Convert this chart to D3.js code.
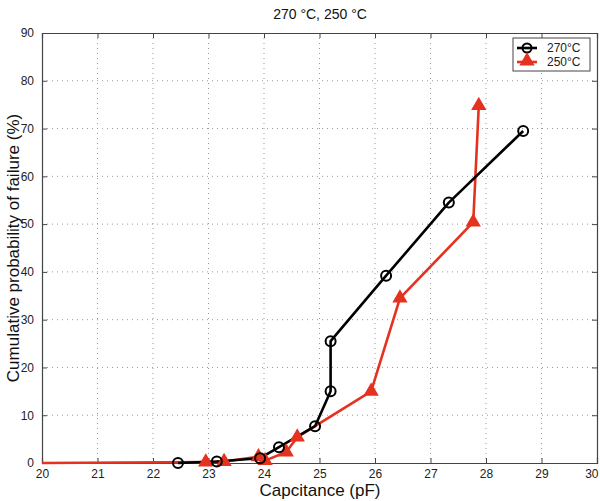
<!DOCTYPE html>
<html>
<head>
<meta charset="utf-8">
<script src="https://cdn.jsdelivr.net/npm/d3@7"></script>
<style>
  body { margin: 0; background: #fff; }
  svg { display: block; font-family: "Liberation Sans", Arial, sans-serif; }
</style>
</head>
<body>
<svg id="chart" width="600" height="501"></svg>
<script>
// Failure data: capacitance (pF) vs cumulative probability of failure (%)
const cap270 = [22.45, 23.15, 23.93, 24.27, 24.92, 25.2, 25.2, 26.2, 27.33, 28.67];
const prob270 = [0, 0.3, 1.0, 3.3, 7.7, 15.0, 25.5, 39.2, 54.5, 69.5];

const cap250 = [20.0, 22.95, 23.28, 23.9, 24.02, 24.4, 24.6, 25.93, 26.45, 27.77, 27.87];
const prob250 = [0, 0.2, 0.3, 1.3, 0.5, 2.3, 5.4, 15.0, 34.5, 50.4, 74.8];
// the first 250 °C point only anchors the line at the left axis
const markerStart250 = 1;

const xTicks = [20, 21, 22, 23, 24, 25, 26, 27, 28, 29, 30];
const yTicks = [0, 10, 20, 30, 40, 50, 60, 70, 80, 90];
const seriesNames = ["270\u00B0C", "250\u00B0C"];
const titleText = "270 \u00B0C, 250 \u00B0C";

const svg = d3.select("#chart");
const m = { left: 42, right: 597, top: 33, bottom: 463 };

const x = d3.scaleLinear().domain([20, 30]).range([m.left, m.right]);
const y = d3.scaleLinear().domain([0, 90]).range([m.bottom, m.top]);

const red = "#e5321f";

// grid
const grid = svg.append("g");
grid.selectAll("line.vx").data(xTicks.slice(1, -1)).join("line")
  .attr("x1", d => x(d)).attr("x2", d => x(d))
  .attr("y1", m.top).attr("y2", m.bottom)
  .attr("stroke", "#999").attr("stroke-width", 1).attr("stroke-dasharray", "1,4");
grid.selectAll("line.hy").data(yTicks.slice(1, -1)).join("line")
  .attr("y1", d => y(d)).attr("y2", d => y(d))
  .attr("x1", m.left).attr("x2", m.right)
  .attr("stroke", "#999").attr("stroke-width", 1).attr("stroke-dasharray", "1,4");

// axes (ticks inward, labels outside)
const xAxis = svg.append("g").attr("transform", `translate(0,${m.bottom})`)
  .call(d3.axisBottom(x).tickValues(xTicks).tickSize(-5).tickPadding(10).tickFormat(d3.format("d")));
const xAxisTop = svg.append("g").attr("transform", `translate(0,${m.top})`)
  .call(d3.axisTop(x).tickValues(xTicks).tickSize(-5).tickFormat(""));
const yAxis = svg.append("g").attr("transform", `translate(${m.left},0)`)
  .call(d3.axisLeft(y).tickValues(yTicks).tickSize(-5).tickPadding(8).tickFormat(d3.format("d")));
const yAxisRight = svg.append("g").attr("transform", `translate(${m.right},0)`)
  .call(d3.axisRight(y).tickValues(yTicks).tickSize(-5).tickFormat(""));

[xAxis, xAxisTop, yAxis, yAxisRight].forEach(g => {
  g.select(".domain").attr("stroke", "#444").attr("stroke-width", 1.2);
  g.selectAll(".tick line").attr("stroke", "#444");
  g.selectAll("text").attr("font-size", 12).attr("fill", "#222")
    .attr("font-family", "Liberation Sans, Arial, sans-serif");
});
xAxis.selectAll("text").attr("dy", "0.45em");
// keep the last x label inside the page
xAxis.selectAll(".tick text").filter(d => d === 30).attr("text-anchor", "end").attr("dx", "1");

// clip to plot area
svg.append("clipPath").attr("id", "plotclip").append("rect")
  .attr("x", m.left).attr("y", m.top - 10)
  .attr("width", m.right - m.left).attr("height", m.bottom - m.top + 20);

const plot = svg.append("g").attr("clip-path", "url(#plotclip)");

const pts270 = cap270.map((c, i) => [c, prob270[i]]);
const pts250 = cap250.map((c, i) => [c, prob250[i]]);
const line = d3.line().x(d => x(d[0])).y(d => y(d[1]));

plot.append("path").datum(pts250).attr("d", line)
  .attr("fill", "none").attr("stroke", red).attr("stroke-width", 2.6).attr("stroke-linejoin", "round");
plot.append("path").datum(pts270).attr("d", line)
  .attr("fill", "none").attr("stroke", "#000").attr("stroke-width", 2.6).attr("stroke-linejoin", "round");

const tri = d3.symbol().type(d3.symbolTriangle).size(70);

plot.selectAll("path.tri").data(pts250.slice(markerStart250)).join("path")
  .attr("class", "tri")
  .attr("d", tri)
  .attr("transform", d => `translate(${x(d[0])},${y(d[1])})`)
  .attr("fill", red).attr("stroke", red).attr("stroke-width", 1.5);

plot.selectAll("circle.c").data(pts270).join("circle")
  .attr("class", "c")
  .attr("cx", d => x(d[0])).attr("cy", d => y(d[1])).attr("r", 5)
  .attr("fill", "none").attr("stroke", "#000").attr("stroke-width", 2);

// title and axis labels
svg.append("text").attr("x", 320).attr("y", 19).attr("text-anchor", "middle")
  .attr("font-size", 14).attr("fill", "#111").text(titleText);
svg.append("text").attr("x", 320).attr("y", 496).attr("text-anchor", "middle")
  .attr("font-size", 17).attr("fill", "#111").text("Capcitance (pF)");
svg.append("text").attr("transform", `translate(19,248) rotate(-90)`).attr("text-anchor", "middle")
  .attr("font-size", 17).attr("fill", "#111").text("Cumulative probability of failure (%)");

// legend
const lg = svg.append("g").attr("transform", "translate(513,38)");
lg.append("rect").attr("width", 77).attr("height", 33)
  .attr("fill", "#fff").attr("stroke", "#444").attr("stroke-width", 1);
const rows = [
  { color: "#000", name: seriesNames[0], kind: "circle" },
  { color: red, name: seriesNames[1], kind: "tri" }
];
rows.forEach((r, i) => {
  const cy = 10 + i * 14;
  lg.append("line").attr("x1", 4).attr("x2", 24).attr("y1", cy).attr("y2", cy)
    .attr("stroke", r.color).attr("stroke-width", 2.6);
  if (r.kind === "circle") {
    lg.append("circle").attr("cx", 14).attr("cy", cy).attr("r", 4.5)
      .attr("fill", "none").attr("stroke", r.color).attr("stroke-width", 2);
  } else {
    lg.append("path").attr("d", tri).attr("transform", `translate(14,${cy - 1})`)
      .attr("fill", r.color).attr("stroke", r.color).attr("stroke-width", 1.5);
  }
  lg.append("text").attr("x", 34).attr("y", cy + 4).attr("font-size", 12)
    .attr("fill", "#222").text(r.name);
});
</script>
</body>
</html>
